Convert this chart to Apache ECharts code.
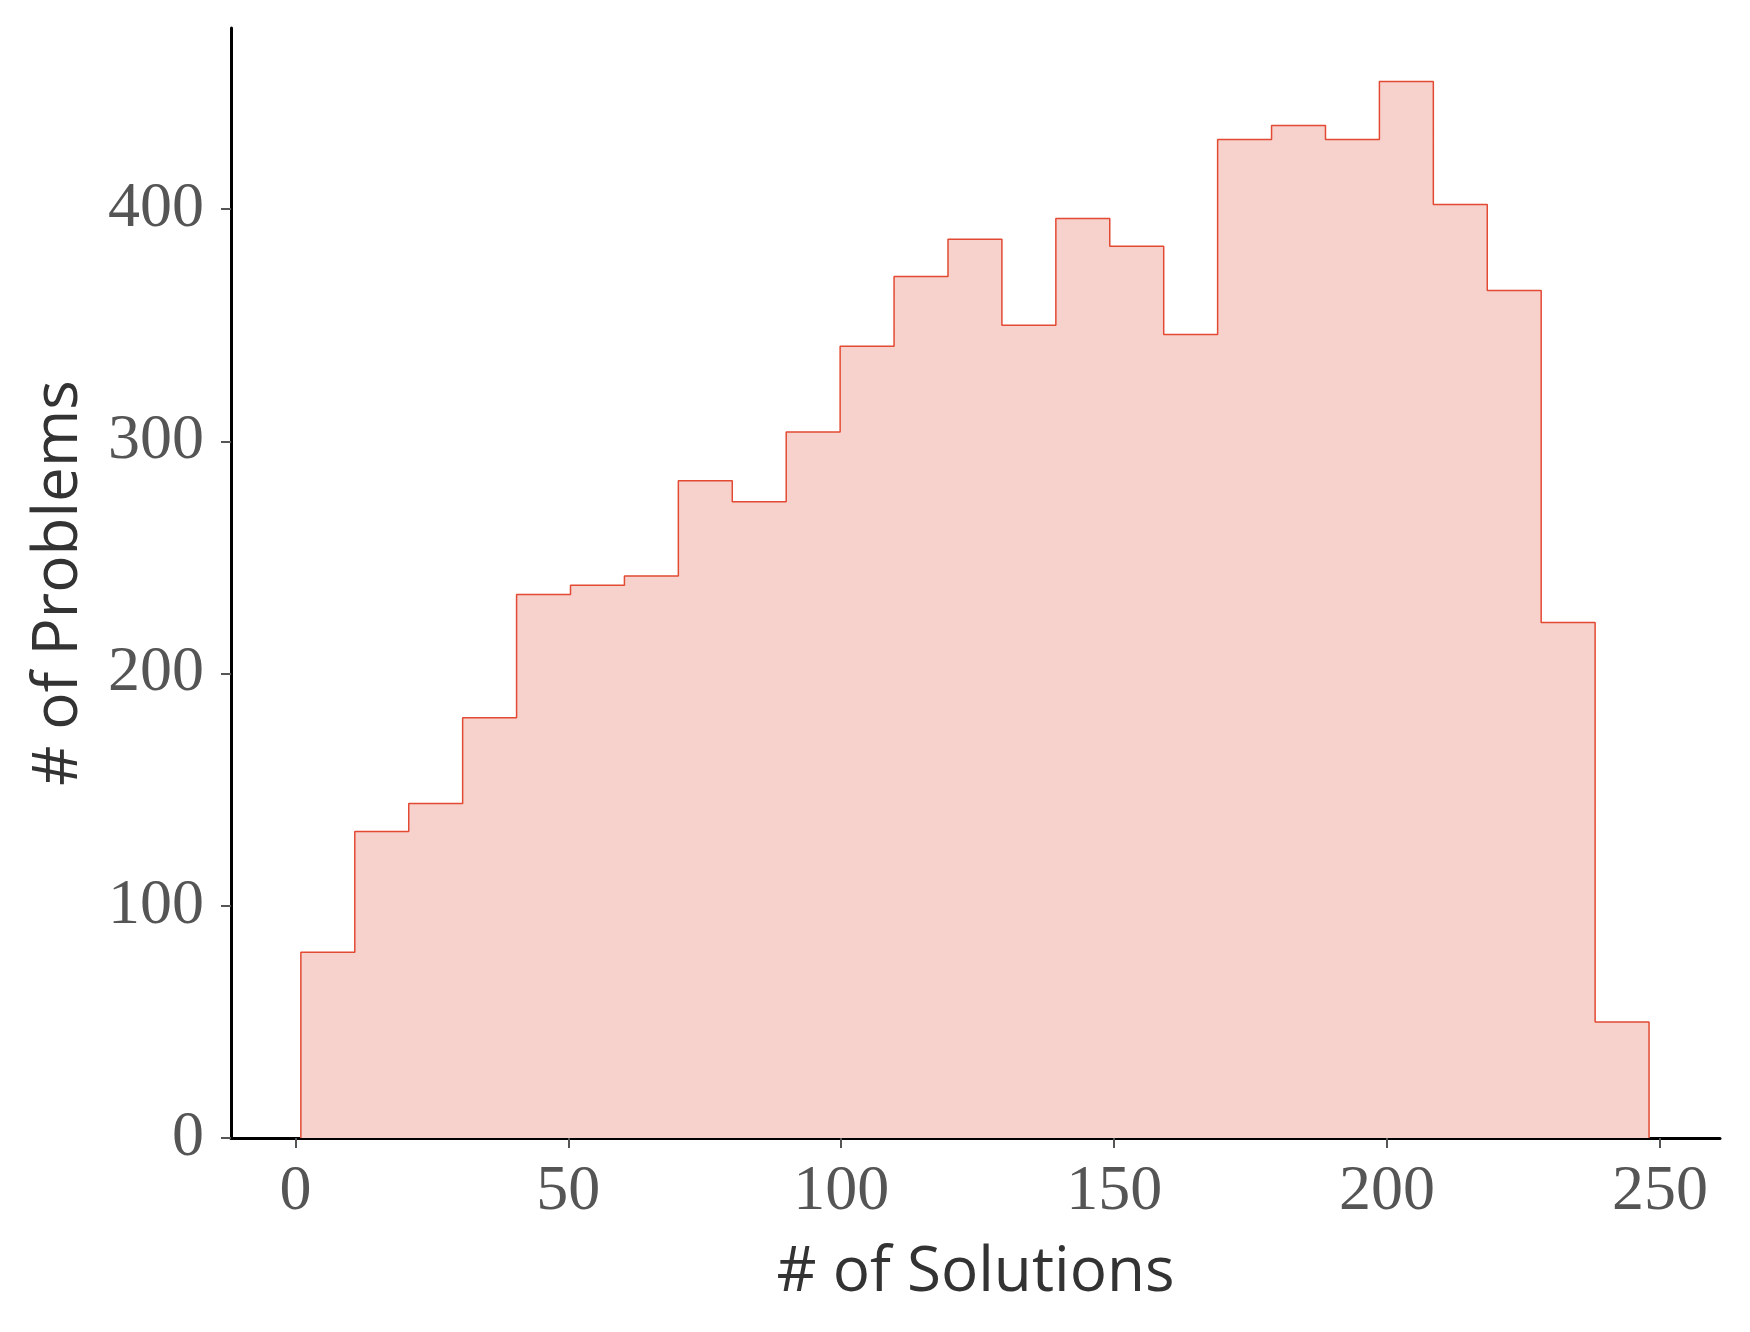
<!DOCTYPE html>
<html>
<head>
<meta charset="utf-8">
<script src="https://cdn.jsdelivr.net/npm/echarts@6/dist/echarts.min.js"></script>
<style>
  html, body { margin: 0; padding: 0; background: #fff; }
  #chart { width: 1750px; height: 1332px; }
</style>
</head>
<body>
<div id="chart"></div>
<script>
// histogram: 25 bins between the smallest and largest solution count
const binMin = 1;
const binMax = 248;
const counts = [80, 132, 144, 181, 234, 238, 242, 283, 274, 304, 341, 371, 387,
  350, 396, 384, 346, 430, 436, 430, 455, 402, 365, 222, 50];
const xTicks = [0, 50, 100, 150, 200, 250];
const yTicks = [0, 100, 200, 300, 400];

const lineColor = '#e24a33';

// step outline points: up at first edge, across each bin, down at last edge
function stepPoints() {
  const width = (binMax - binMin) / counts.length;
  const pts = [[binMin, 0]];
  counts.forEach((c, i) => {
    pts.push([binMin + i * width, c]);
  });
  pts.push([binMax, counts[counts.length - 1]]);
  pts.push([binMax, 0]);
  return pts;
}

const chart = echarts.init(document.getElementById('chart'), null, { renderer: 'canvas' });

const tickLabel = {
  fontFamily: 'Liberation Serif',
  fontSize: 64,
  color: '#555555'
};

chart.setOption({
  animation: false,
  backgroundColor: '#ffffff',
  grid: { left: 231, right: 30, top: 28, bottom: 194 },
  xAxis: {
    type: 'value',
    min: -11.8,
    max: 261,
    name: '# of Solutions',
    nameLocation: 'middle',
    nameGap: 104,
    nameTextStyle: { fontFamily: 'Open Sans', fontSize: 62, color: '#333333' },
    splitLine: { show: false },
    axisLine: { onZero: false, lineStyle: { color: '#000', width: 3 } },
    axisTick: { customValues: xTicks, length: 10, lineStyle: { color: '#555', width: 2 } },
    axisLabel: Object.assign({ customValues: xTicks, margin: 22 }, tickLabel)
  },
  yAxis: {
    type: 'value',
    min: 0,
    max: 478,
    name: '# of Problems',
    nameLocation: 'middle',
    nameGap: 141,
    nameTextStyle: { fontFamily: 'Open Sans', fontSize: 62, color: '#333333' },
    splitLine: { show: false },
    axisLine: { show: true, onZero: false, lineStyle: { color: '#000', width: 3 } },
    axisTick: { show: true, customValues: yTicks, length: 10, lineStyle: { color: '#555', width: 2 } },
    axisLabel: Object.assign({ customValues: yTicks, margin: 27 }, tickLabel)
  },
  series: [{
    type: 'line',
    step: 'end',
    data: stepPoints(),
    showSymbol: false,
    lineStyle: { color: lineColor, width: 1.5 },
    areaStyle: { color: '#f7d1cc', opacity: 1, origin: 'start' },
    z: 1
  }]
});
</script>
</body>
</html>
